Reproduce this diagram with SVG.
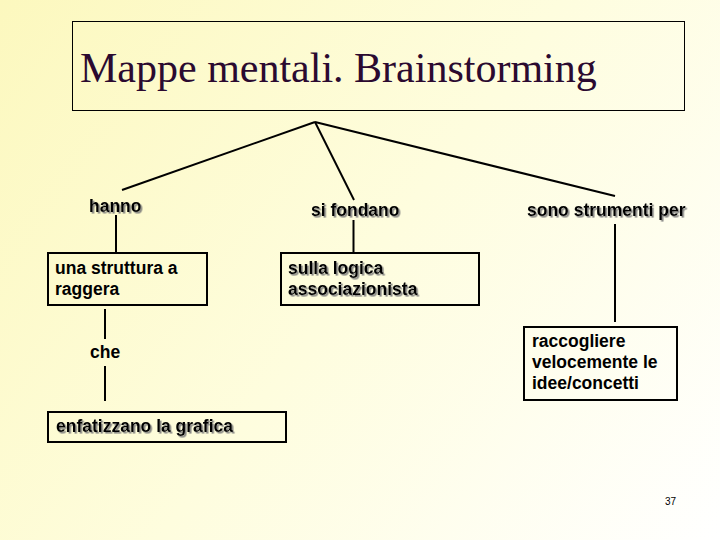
<svg xmlns="http://www.w3.org/2000/svg" width="720" height="540" viewBox="0 0 720 540">
  <defs>
    <linearGradient id="bg" gradientUnits="userSpaceOnUse" x1="0" y1="0" x2="720" y2="540">
      <stop offset="0" stop-color="#FCF8BE"/>
      <stop offset="0.5" stop-color="#FEFDDE"/>
      <stop offset="1" stop-color="#FFFFFF"/>
    </linearGradient>
    <filter id="shadow" x="-10%" y="-30%" width="130%" height="180%">
      <feDropShadow dx="1.6" dy="1.6" stdDeviation="0.4" flood-color="#7a7a7a" flood-opacity="0.9"/>
    </filter>
  </defs>
  <style>
    .title { font-family: "Liberation Serif", "Times New Roman", "DejaVu Serif", serif; font-size: 42px; fill: #2B0A30; }
    .lbl { font-family: "Liberation Sans", Arial, sans-serif; font-weight: bold; font-size: 17.5px; fill: #000; }
    .pg { font-family: "Liberation Sans", Arial, sans-serif; font-size: 10px; fill: #000; }
    .sh { filter: url(#shadow); }
    .box { fill: none; stroke: #000; stroke-width: 2; }
    .conn line { stroke: #000; stroke-width: 2; stroke-linecap: butt; }
  </style>
  <rect x="0" y="0" width="720" height="540" fill="url(#bg)"/>

  <g id="title">
    <rect x="72.5" y="21.5" width="612" height="89" fill="none" stroke="#000" stroke-width="1"/>
    <text class="title" x="80" y="82">Mappe mentali. Brainstorming</text>
  </g>

  <g id="connectors" class="conn">
    <line x1="315" y1="122" x2="122" y2="190"/>
    <line x1="315" y1="122" x2="354" y2="200"/>
    <line x1="315" y1="122" x2="615" y2="196"/>
    <line x1="116" y1="215" x2="116" y2="253"/>
    <line x1="353.5" y1="220" x2="353.5" y2="253"/>
    <line x1="615" y1="224" x2="615" y2="322"/>
    <line x1="105" y1="309" x2="105" y2="339"/>
    <line x1="105" y1="366" x2="105" y2="401"/>
  </g>

  <g id="hanno"><text class="lbl sh" x="89" y="212">hanno</text></g>
  <g id="si-fondano"><text class="lbl sh" x="311" y="216">si fondano</text></g>
  <g id="sono-strumenti-per"><text class="lbl sh" x="527" y="216">sono strumenti per</text></g>

  <g id="struttura">
    <rect class="box" x="48" y="253" width="159" height="52"/>
    <text class="lbl" x="55" y="274">una struttura a</text>
    <text class="lbl" x="55" y="295">raggera</text>
  </g>

  <g id="logica">
    <rect class="box" x="281" y="253" width="198" height="52"/>
    <text class="lbl sh" x="288" y="274">sulla logica</text>
    <text class="lbl sh" x="288" y="295">associazionista</text>
  </g>

  <g id="che"><text class="lbl" x="90" y="358">che</text></g>

  <g id="raccogliere">
    <rect class="box" x="524" y="327" width="153" height="73"/>
    <text class="lbl" x="532" y="347">raccogliere</text>
    <text class="lbl" x="532" y="368">velocemente le</text>
    <text class="lbl" x="532" y="389">idee/concetti</text>
  </g>

  <g id="enfatizzano">
    <rect class="box" x="48" y="412" width="238" height="30"/>
    <text class="lbl sh" x="56" y="432">enfatizzano la grafica</text>
  </g>

  <g id="page-number">
    <text class="pg" x="665" y="505">37</text>
  </g>
</svg>
